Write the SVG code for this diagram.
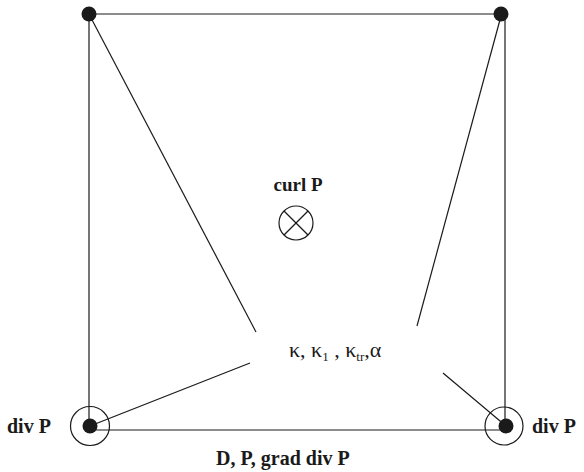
<svg xmlns="http://www.w3.org/2000/svg" width="584" height="472" viewBox="0 0 584 472">
<style>
.ln{stroke:#1a1a1a;stroke-width:1.2;fill:none}
.dot{fill:#1a1a1a}
.ring{stroke:#1a1a1a;stroke-width:1.2;fill:none}
text{font-family:"Liberation Serif","Times New Roman",Tinos,"DejaVu Serif",serif;fill:#1a1a1a}
.lbl{font-weight:bold;font-size:20px}
.gr{font-size:22px}
</style>
<rect width="584" height="472" fill="#fff"/>
<g id="connectors">
<line class="ln" x1="89" y1="14" x2="501" y2="14"/>
<line class="ln" x1="89" y1="14" x2="89" y2="426"/>
<line class="ln" x1="505" y1="14" x2="505" y2="426"/>
<line class="ln" x1="90" y1="430" x2="505" y2="430"/>
<line class="ln" x1="90" y1="16" x2="256" y2="332"/>
<line class="ln" x1="90" y1="426" x2="250" y2="363"/>
<line class="ln" x1="501" y1="16" x2="417" y2="326"/>
<line class="ln" x1="506" y1="426" x2="443" y2="373"/>
</g>
<g id="node-tl"><circle class="dot" cx="89" cy="14" r="7.5"/></g>
<g id="node-tr"><circle class="dot" cx="501" cy="14" r="7.5"/></g>
<g id="node-bl">
<circle class="dot" cx="90" cy="426" r="7.5"/>
<circle class="ring" cx="90" cy="426" r="19.5"/>
<text class="lbl" x="7" y="433" font-family="Liberation Serif, serif">div P</text>
</g>
<g id="node-br">
<circle class="dot" cx="506" cy="426" r="7.5"/>
<circle class="ring" cx="504" cy="426" r="19"/>
<text class="lbl" x="532" y="433">div P</text>
</g>
<g id="node-center">
<text class="lbl" x="298" y="191" text-anchor="middle" style="font-size:19px">curl P</text>
<circle class="ring" cx="296" cy="223" r="17"/>
<line class="ln" x1="284" y1="211" x2="308" y2="235"/>
<line class="ln" x1="308" y1="211" x2="284" y2="235"/>
</g>
<g id="node-params">
<text class="gr" x="289" y="357">κ, κ<tspan font-size="13" dy="4">1</tspan><tspan dy="-4"> , κ</tspan><tspan font-size="13" dy="4">tr</tspan><tspan dy="-4">,α</tspan></text>
</g>
<g id="node-bottom">
<text class="lbl" x="216" y="465">D, P, grad div P</text>
</g>
</svg>
